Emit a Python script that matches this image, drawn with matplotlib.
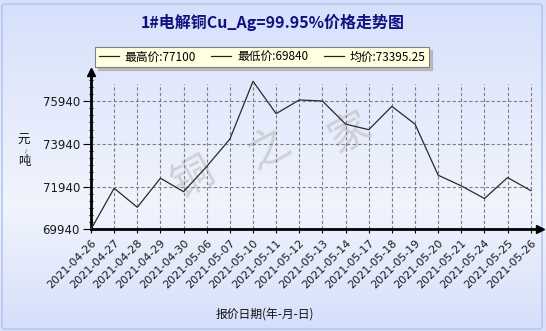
import matplotlib
matplotlib.use("Agg")
import matplotlib.pyplot as plt
import numpy as np
from matplotlib.lines import Line2D
from matplotlib.patches import FancyBboxPatch
from matplotlib.colors import LinearSegmentedColormap

plt.rcParams['font.family'] = ['DejaVu Sans', 'Noto Sans CJK SC']
CJK = ['Noto Sans CJK SC', 'DejaVu Sans']

dates = ["2021-04-26", "2021-04-27", "2021-04-28", "2021-04-29", "2021-04-30",
         "2021-05-06", "2021-05-07", "2021-05-10", "2021-05-11", "2021-05-12",
         "2021-05-13", "2021-05-14", "2021-05-17", "2021-05-18", "2021-05-19",
         "2021-05-20", "2021-05-21", "2021-05-24", "2021-05-25", "2021-05-26"]
prices = [69940, 71860, 70970, 72330, 71700, 72880, 74160, 76860, 75350, 75990,
          75940, 74860, 74600, 75690, 74860, 72470, 71970, 71380, 72360, 71750]
yticks = [69940, 71940, 73940, 75940]
title = "1#电解铜Cu_Ag=99.95%价格走势图"
legend_labels = ["最高价:77100", "最低价:69840", "均价:73395.25"]
xlabel = "报价日期(年-月-日)"

W, H = 546, 331
fig = plt.figure(figsize=(W / 100, H / 100), dpi=100)

# background gradient
bg = fig.add_axes([0, 0, 1, 1], zorder=-10)
cmap = LinearSegmentedColormap.from_list(
    "bg", [(0.0, "#d6e0fb"), (0.62, "#f1f4fd"), (1.0, "#d5dffa")])
grad = np.linspace(0, 1, 256).reshape(-1, 1)
bg.imshow(grad, aspect='auto', cmap=cmap, extent=[0, 1, 0, 1], origin='upper')
bg.add_patch(FancyBboxPatch((2 / W, 2 / H), 1 - 6 / W, 1 - 6 / H,
                            boxstyle="round,pad=0,rounding_size=0.008",
                            fill=False, ec="#b4c6f2", lw=1.2,
                            transform=bg.transAxes))
bg.set_xlim(0, 1)
bg.set_ylim(0, 1)
bg.axis('off')

# main axes
px_per_1000 = 21.38
y_top = 69940 + (229.3 - 72) / px_per_1000 * 1000
ax = fig.add_axes([91 / W, (H - 229.3) / H, 449 / W, (229.3 - 72) / H])
ax.patch.set_alpha(0)
x = np.arange(len(dates))
ax.set_xlim(0, 19.4)
ax.set_ylim(69940, y_top)

grid_top = 69940 + (229.3 - 84) / px_per_1000 * 1000
ax.vlines(x[1:], 69940, grid_top, colors="#808080", linestyles=(0, (3, 2)), lw=0.8, zorder=1)
ax.hlines(yticks[1:], 0, x[-1], colors="#808080", linestyles=(0, (3, 2)), lw=0.8, zorder=1)

ax.plot(x, prices, color="#2a2a2a", lw=0.9, zorder=3, clip_on=False)

# watermark
for (cx, cy), ch in zip([(193, 178), (270, 150), (350, 133)], ["铜", "之", "家"]):
    fig.text(cx / W, 1 - cy / H, ch, family=CJK, fontsize=30, color="#c4c4c8",
             alpha=0.7, rotation=28, ha='center', va='center', zorder=-5)

for s in ['top', 'right']:
    ax.spines[s].set_visible(False)
for s in ['left', 'bottom']:
    ax.spines[s].set_linewidth(2.0)
    ax.spines[s].set_color('black')

# arrows
ax.plot([0], [y_top], marker='^', color='black', ms=6, clip_on=False, zorder=5)
ax.plot([19.4], [69940], marker='>', color='black', ms=6, clip_on=False, zorder=5)

ax.set_yticks(yticks)
ax.set_yticklabels([str(v) for v in yticks], fontsize=8.5, color="#1a1a1a")
ax.set_yticks(np.arange(69940, 77100, 2000 / 6), minor=True)
ax.tick_params(axis='y', which='major', length=6, width=0.8, direction='out', pad=2)
ax.tick_params(axis='y', which='minor', length=3, width=0.8, direction='inout')
ax.set_xticks(x)
ax.set_xticklabels(dates, rotation=45, ha='right', va='top', rotation_mode='anchor',
                   fontsize=8, color="#1a1a1a")
ax.tick_params(axis='x', which='major', length=3, width=0.8, direction='out', pad=3)

fig.text(273 / W, 1 - 22 / H, title, family=CJK, fontsize=11.5, fontweight='bold',
         color="#101080", ha='center', va='center')
fig.text(265 / W, 1 - 314 / H, xlabel, family=CJK, fontsize=8.5, color="#111111",
         ha='center', va='center')
fig.text(24 / W, 1 - 140 / H, "元", family=CJK, fontsize=9, color="#111111",
         ha='center', va='center')
fig.text(26 / W, 1 - 151 / H, "/", fontsize=4.5, color="#555555",
         ha='center', va='center')
fig.text(24 / W, 1 - 162 / H, "吨", family=CJK, fontsize=9, color="#111111",
         ha='center', va='center')

handles = [Line2D([], [], color='#222222', lw=0.9) for _ in legend_labels]
leg = fig.legend(handles, legend_labels, ncol=3, loc='center',
                 bbox_to_anchor=(262 / W, 1 - 57 / H), frameon=True, fancybox=False,
                 shadow={'color': '#b0b0b0', 'alpha': 0.8}, facecolor="#ffffe1",
                 edgecolor="#808080", framealpha=1, handlelength=1.7,
                 handletextpad=0.5, columnspacing=1.3, borderpad=0.3,
                 prop={'family': CJK, 'size': 8.5})
leg.get_frame().set_linewidth(0.8)

fig.savefig("out.png", dpi=100)
